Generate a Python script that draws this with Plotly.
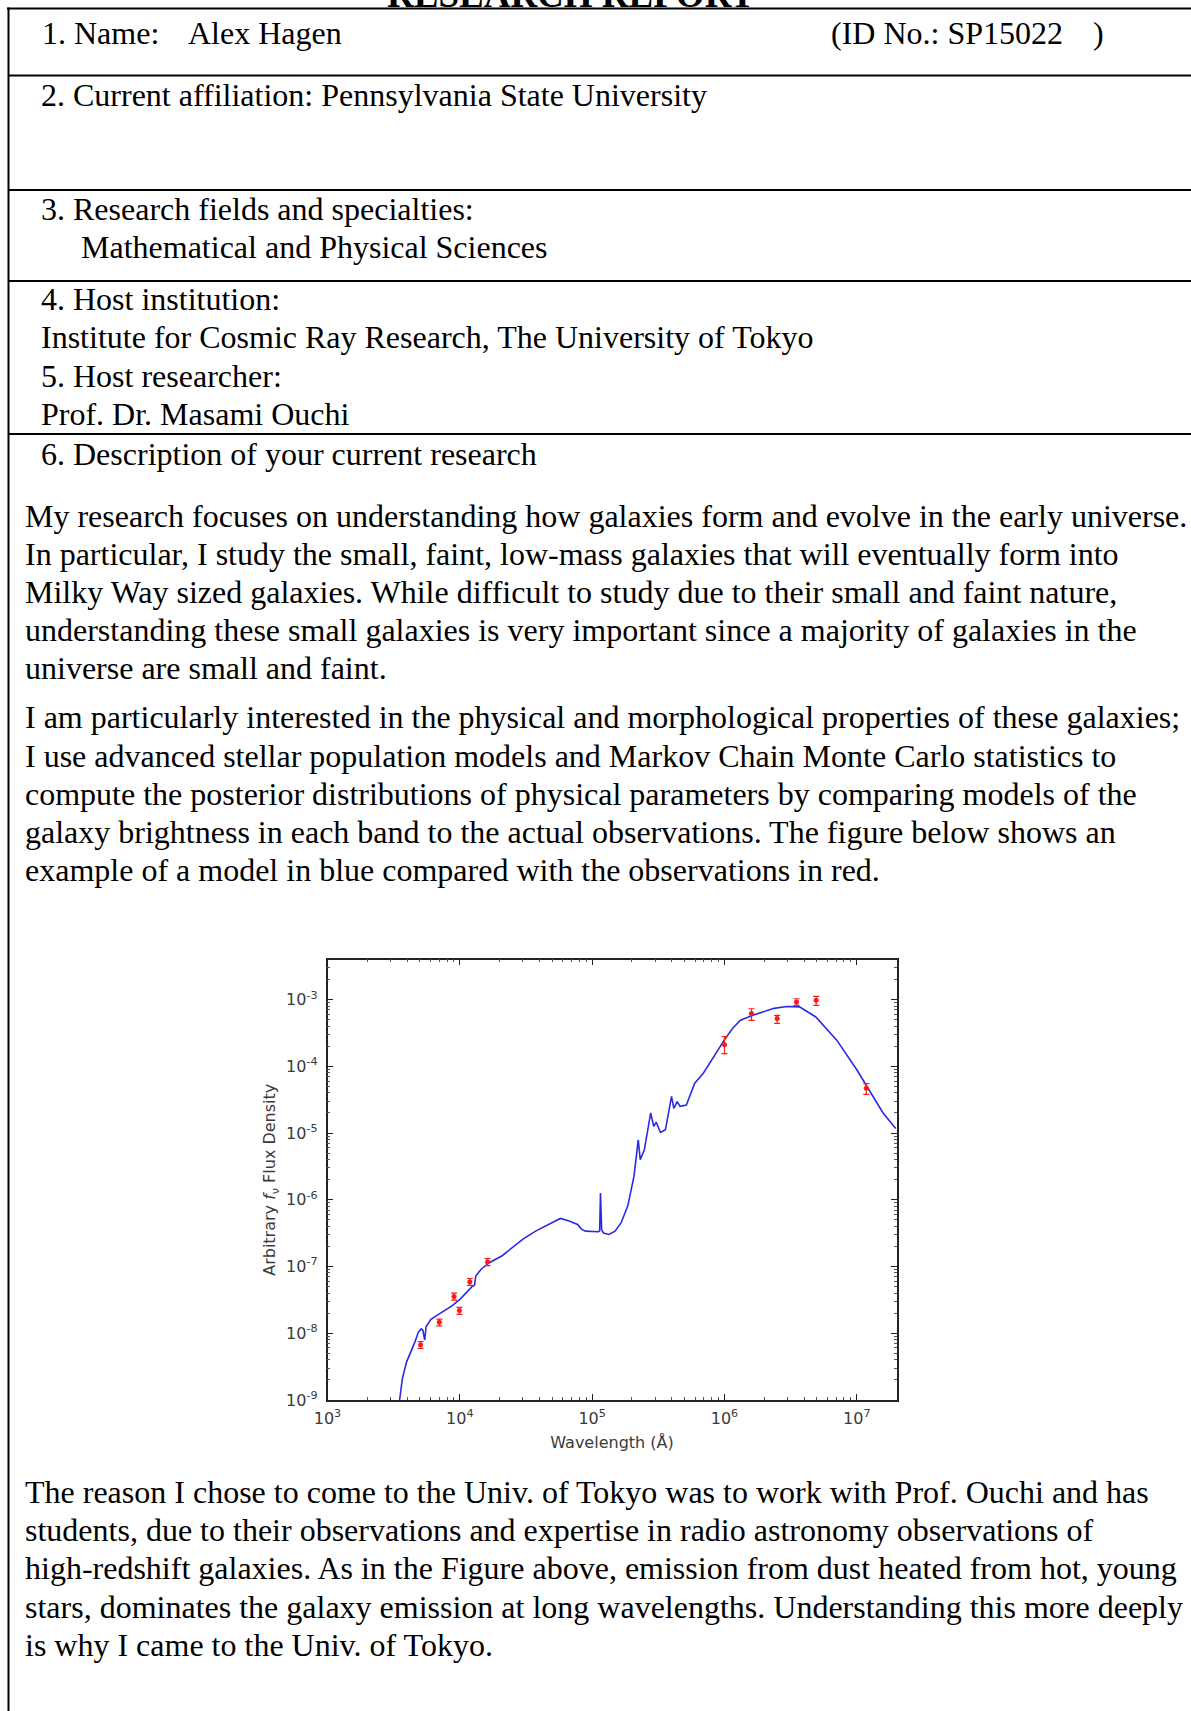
import plotly.graph_objects as go

W, H = 1191, 1711

# ---------------- data ----------------
model_wavelength = [3430, 3680, 3960, 4270, 4580, 4860, 5120, 5250, 5430, 5560, 6050, 7000,
                    8710, 10070, 12500, 12900, 13200, 14500, 16800, 20900, 30000, 37400,
                    57500, 67000, 77600, 83000, 89000, 111000, 114000, 115600, 118000, 122000,
                    134000, 149000, 166000, 186000, 207000, 223000, 231000, 248000, 277000,
                    292000, 305000, 328000, 358000, 398000, 414000, 439000, 462000, 515000,
                    596000, 692000, 794000, 993000, 1.15e6, 1.32e6, 1.66e6, 2.37e6, 2.95e6,
                    3.69e6, 4.9e6, 7.08e6, 1.0e7, 1.27e7, 1.58e7, 1.97e7]
model_flux = [7.1e-10, 2.09e-9, 3.72e-9, 5.25e-9, 7.41e-9, 1.04e-8, 1.16e-8, 1.12e-8, 7.9e-9,
              1.26e-8, 1.62e-8, 1.95e-8, 2.57e-8, 3.24e-8, 5.1e-8, 5.2e-8, 7.2e-8, 9.1e-8,
              1.15e-7, 1.45e-7, 2.57e-7, 3.39e-7, 5.25e-7, 4.79e-7, 4.27e-7, 3.63e-7, 3.39e-7,
              3.31e-7, 3.4e-7, 1.26e-6, 3.55e-7, 3.16e-7, 3.02e-7, 3.39e-7, 4.57e-7, 8.1e-7,
              2.24e-6, 7.9e-6, 3.98e-6, 5.6e-6, 2.0e-5, 1.26e-5, 1.45e-5, 1.02e-5, 1.12e-5,
              3.55e-5, 2.34e-5, 2.95e-5, 2.51e-5, 2.63e-5, 5.6e-5, 7.9e-5, 1.23e-4, 2.45e-4,
              3.7e-4, 4.9e-4, 5.9e-4, 7.4e-4, 7.9e-4, 7.8e-4, 5.5e-4, 2.45e-4, 8.9e-5, 3.98e-5,
              2.0e-5, 1.17e-5]

obs_wavelength = [5050, 7000, 9040, 9930, 11900, 16200, 1.0e6, 1.6e6, 2.5e6, 3.5e6, 4.93e6, 1.18e7]
obs_flux = [6.7e-9, 1.46e-8, 3.56e-8, 2.18e-8, 5.9e-8, 1.17e-7, 2.1e-4, 6.2e-4, 5.2e-4, 9.2e-4, 9.8e-4, 4.7e-5]
obs_err_plus = [0.8e-9, 1.7e-9, 4.2e-9, 2.6e-9, 7e-9, 1.4e-8, 0.7e-4, 1.1e-4, 0.6e-4, 1.1e-4, 1.4e-4, 0.8e-5]
obs_err_minus = [0.8e-9, 1.7e-9, 4.2e-9, 2.6e-9, 7e-9, 1.4e-8, 0.55e-4, 1.3e-4, 0.8e-4, 1.0e-4, 1.6e-4, 0.9e-5]

x_tick_vals = [1e3, 1e4, 1e5, 1e6, 1e7]
x_tick_text = ["10<sup>3</sup>", "10<sup>4</sup>", "10<sup>5</sup>", "10<sup>6</sup>", "10<sup>7</sup>"]
y_tick_vals = [1e-9, 1e-8, 1e-7, 1e-6, 1e-5, 1e-4, 1e-3]
y_tick_text = ["10<sup>-9</sup>", "10<sup>-8</sup>", "10<sup>-7</sup>", "10<sup>-6</sup>",
               "10<sup>-5</sup>", "10<sup>-4</sup>", "10<sup>-3</sup>"]

title_text = "RESEARCH REPORT"
header_lines = [
    ("1. Name:", 40, 43.5),
    ("Alex Hagen", 186, 43.5),
    ("(ID No.: SP15022", 829, 43.5),
    (")", 1091, 43.5),
    ("2. Current affiliation: Pennsylvania State University", 39, 105.8),
    ("3. Research fields and specialties:", 39, 219.8),
    ("Mathematical and Physical Sciences", 79, 257.8),
    ("4. Host institution:", 39, 310),
    ("Institute for Cosmic Ray Research, The University of Tokyo", 39, 348.2),
    ("5. Host researcher:", 39, 386.4),
    ("Prof. Dr. Masami Ouchi", 39, 424.6),
    ("6. Description of your current research", 39, 465),
]
para1 = [
    "My research focuses on understanding how galaxies form and evolve in the early universe.",
    "In particular, I study the small, faint, low-mass galaxies that will eventually form into",
    "Milky Way sized galaxies. While difficult to study due to their small and faint nature,",
    "understanding these small galaxies is very important since a majority of galaxies in the",
    "universe are small and faint.",
]
para2 = [
    "I am particularly interested in the physical and morphological properties of these galaxies;",
    "I use advanced stellar population models and Markov Chain Monte Carlo statistics to",
    "compute the posterior distributions of physical parameters by comparing models of the",
    "galaxy brightness in each band to the actual observations. The figure below shows an",
    "example of a model in blue compared with the observations in red.",
]
para3 = [
    "The reason I chose to come to the Univ. of Tokyo was to work with Prof. Ouchi and has",
    "students, due to their observations and expertise in radio astronomy observations of",
    "high-redshift galaxies. As in the Figure above, emission from dust heated from hot, young",
    "stars, dominates the galaxy emission at long wavelengths. Understanding this more deeply",
    "is why I came to the Univ. of Tokyo.",
]

# ---------------- layout helpers ----------------
FS = 32
SERIF = "Liberation Serif"


def px(x):
    return x / W


def py(y):
    return 1 - y / H


annotations = []


def text_line(t, x, baseline, size=FS, bold=False, anchor="left"):
    s = f"<b>{t}</b>" if bold else t
    annotations.append(dict(
        text=s, x=px(x), y=py(baseline - 0.335 * size), xref="paper", yref="paper",
        xanchor=anchor, yanchor="middle", showarrow=False,
        font=dict(family=SERIF, size=size, color="black"),
    ))


text_line(title_text, 571, 6.5, size=37, bold=True, anchor="center")
for t, x, b in header_lines:
    text_line(t, x, b)

LS = 38.1
for i, t in enumerate(para1):
    text_line(t, 22.5, 526.7 + i * LS)
for i, t in enumerate(para2):
    text_line(t, 22.5, 728.2 + i * LS)
for i, t in enumerate(para3):
    text_line(t, 22.5, 1503 + i * LS)

shapes = []
LW = 2
shapes.append(dict(type="line", xref="paper", yref="paper", x0=px(7), x1=px(W + 5),
                   y0=py(8.5), y1=py(8.5), line=dict(color="black", width=LW)))
shapes.append(dict(type="line", xref="paper", yref="paper", x0=px(8.5), x1=px(8.5),
                   y0=py(7.5), y1=py(H + 5), line=dict(color="black", width=LW)))
for yy in [75.4, 189.9, 280.9, 433.9]:
    shapes.append(dict(type="line", xref="paper", yref="paper", x0=px(8), x1=px(W + 5),
                       y0=py(yy), y1=py(yy), line=dict(color="black", width=LW)))

# ---------------- chart ----------------
fig = go.Figure()
fig.add_trace(go.Scatter(
    x=model_wavelength, y=model_flux, mode="lines",
    line=dict(color="#2a2ae6", width=1.6), showlegend=False,
))
fig.add_trace(go.Scatter(
    x=obs_wavelength, y=obs_flux, mode="markers",
    marker=dict(color="#ff1a1a", size=5),
    error_y=dict(type="data", symmetric=False, array=obs_err_plus, arrayminus=obs_err_minus,
                 color="#ff1a1a", thickness=1.2, width=3),
    showlegend=False,
))

AX_L, AX_R, AX_T, AX_B = 327.5, 896.5, 959.6, 1399.9
tick_font = dict(family="DejaVu Sans", size=16, color="#3a3a3a")
axis_common = dict(
    type="log", showgrid=False, zeroline=False, showline=True, linecolor="#222222",
    linewidth=1.5, mirror="allticks", ticks="inside", ticklen=6, tickcolor="#222222",
    tickwidth=1, tickfont=tick_font, automargin=False,
    minor=dict(ticks="inside", ticklen=3, tickcolor="#555555", dtick="D1", showgrid=False),
)
fig.update_layout(
    width=W, height=H, margin=dict(l=0, r=0, t=0, b=0, autoexpand=False),
    paper_bgcolor="white", plot_bgcolor="white",
    annotations=annotations, shapes=shapes,
    xaxis=dict(
        domain=[px(AX_L), px(AX_R)], range=[3, 7.3],
        tickvals=x_tick_vals, ticktext=x_tick_text, ticklabelstandoff=3,
        title=dict(text="Wavelength (Å)", font=dict(family="DejaVu Sans", size=16, color="#3a3a3a"),
                   standoff=10),
        **axis_common,
    ),
    yaxis=dict(
        domain=[py(AX_B), py(AX_T)], range=[-9, -2.4],
        tickvals=y_tick_vals, ticktext=y_tick_text, ticklabelstandoff=5,
        title=dict(text="Arbitrary <i>f</i><sub>ν</sub> Flux Density",
                   font=dict(family="DejaVu Sans", size=16, color="#3a3a3a"), standoff=6),
        **axis_common,
    ),
)

fig.write_html("out.html", config={"displayModeBar": False},
               post_script="document.body.style.margin='0';")
